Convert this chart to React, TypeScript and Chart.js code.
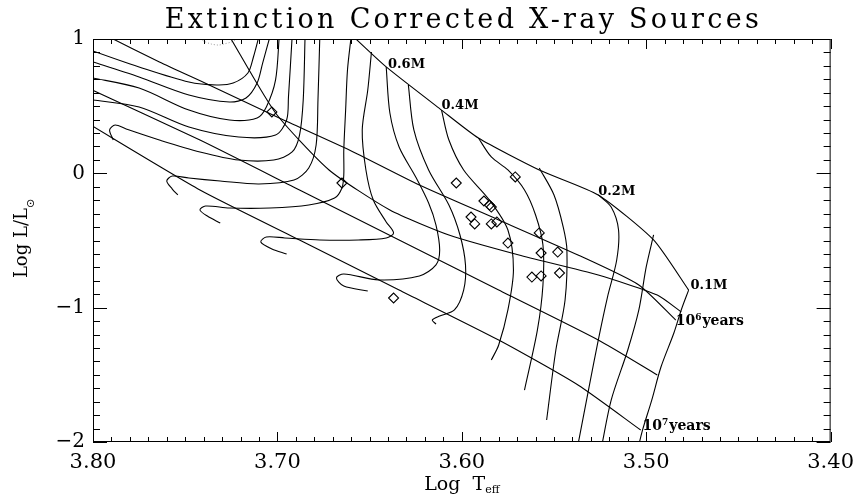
import React, { useEffect, useRef } from 'react';
import { Chart, registerables } from 'chart.js';

Chart.register(...registerables);

const TITLE = 'Extinction Corrected X-ray Sources';
const X_TITLE = 'Log  T';
const X_TITLE_SUB = 'eff';
const Y_TITLE = 'Log L/L';
const Y_TITLE_SUB = '\u2299';

// log Teff axis runs from 3.80 (left) to 3.40 (right); log L from -2 to 1
const X_MIN = 3.4;
const X_MAX = 3.8;
const Y_MIN = -2;
const Y_MAX = 1;

// Pre-main-sequence evolutionary tracks, points are [log Teff, log L/Lsun]
// higher masses: Hayashi descent, then leftward radiative branch
const trackB = [[3.710, 1.02], [3.713, 0.866], [3.716, 0.747], [3.724, 0.672], [3.733, 0.658], [3.748, 0.680], [3.775, 0.792], [3.800, 0.911], [3.805, 0.94]];
const trackC = [[3.704, 1.02], [3.708, 0.821], [3.711, 0.672], [3.717, 0.561], [3.726, 0.531], [3.748, 0.583], [3.775, 0.717], [3.800, 0.829], [3.805, 0.85]];
const trackD = [[3.699, 1.02], [3.701, 0.695], [3.706, 0.494], [3.711, 0.412], [3.726, 0.397], [3.748, 0.471], [3.775, 0.635], [3.800, 0.710], [3.805, 0.72]];
const trackE = [[3.692, 1.02], [3.694, 0.568], [3.695, 0.397], [3.701, 0.285], [3.721, 0.270], [3.748, 0.345], [3.775, 0.494], [3.800, 0.546], [3.805, 0.55]];
// tracks ending on the main sequence with a small hook
const trackG = [[3.685, 1.02], [3.686, 0.546], [3.688, 0.285], [3.692, 0.159], [3.702, 0.099], [3.721, 0.099], [3.742, 0.159], [3.764, 0.248], [3.782, 0.330], [3.788, 0.360], [3.791, 0.323], [3.789, 0.248]];
const trackH = [[3.677, 1.02], [3.678, 0.546], [3.679, 0.211], [3.683, 0.040], [3.691, -0.050], [3.710, -0.079], [3.731, -0.057], [3.748, -0.035], [3.757, -0.020], [3.760, -0.057], [3.757, -0.117], [3.754, -0.161]];
const trackI = [[3.660, 1.02], [3.662, 0.769], [3.663, 0.471], [3.664, 0.174], [3.664, -0.012], [3.665, -0.109], [3.669, -0.184], [3.683, -0.236], [3.704, -0.258], [3.726, -0.258], [3.739, -0.243], [3.742, -0.273], [3.738, -0.318], [3.731, -0.370]];
const track07 = [[3.649, 0.903], [3.651, 0.620], [3.654, 0.323], [3.652, 0.025], [3.648, -0.199], [3.641, -0.362], [3.637, -0.444], [3.641, -0.481], [3.656, -0.496], [3.677, -0.496], [3.696, -0.481], [3.706, -0.474], [3.709, -0.511], [3.703, -0.563], [3.695, -0.601]];
const track06 = [[3.641, 0.792], [3.639, 0.449], [3.634, 0.196], [3.625, -0.027], [3.618, -0.221], [3.614, -0.385], [3.612, -0.571], [3.614, -0.682], [3.623, -0.764], [3.645, -0.794], [3.664, -0.749], [3.668, -0.779], [3.664, -0.839], [3.651, -0.876]];
const track05 = [[3.629, 0.658], [3.626, 0.323], [3.618, 0.025], [3.607, -0.236], [3.601, -0.459], [3.598, -0.682], [3.599, -0.869], [3.604, -1.017], [3.612, -1.062], [3.616, -1.092], [3.614, -1.122]];
// low masses: nearly vertical descent
const track04 = [[3.611, 0.471], [3.607, 0.248], [3.599, 0.025], [3.585, -0.199], [3.575, -0.422], [3.572, -0.720], [3.575, -1.017], [3.580, -1.278], [3.584, -1.390]];
const track03 = [[3.591, 0.263], [3.584, 0.122], [3.575, 0.025], [3.566, -0.124], [3.560, -0.310], [3.556, -0.533], [3.556, -0.831], [3.559, -1.166], [3.566, -1.613]];
const track025 = [[3.558, 0.040], [3.550, -0.161], [3.545, -0.400], [3.543, -0.571], [3.544, -0.943], [3.549, -1.315], [3.554, -1.836]];
const track02 = [[3.526, -0.161], [3.519, -0.251], [3.515, -0.422], [3.516, -0.645], [3.521, -0.921], [3.526, -1.241], [3.531, -1.591], [3.537, -2.02]];
const track015 = [[3.496, -0.459], [3.500, -0.697], [3.504, -1.017], [3.510, -1.315], [3.519, -1.688], [3.524, -2.02]];
const track01 = [[3.477, -0.869], [3.481, -1.017], [3.485, -1.189], [3.492, -1.442], [3.497, -1.688], [3.502, -1.911], [3.504, -2.02]];

// Isochrones, youngest first
const iso1 = [[3.659, 1.02], [3.641, 0.792], [3.611, 0.471], [3.591, 0.263], [3.558, 0.025], [3.526, -0.161], [3.496, -0.496], [3.477, -0.869]];
const iso2 = [[3.726, 1.02], [3.701, 0.449], [3.672, 0.025], [3.639, -0.273], [3.607, -0.459], [3.569, -0.608], [3.526, -0.757], [3.494, -0.906], [3.481, -1.032]];
const iso3 = [[3.792, 1.02], [3.764, 0.829], [3.737, 0.658], [3.699, 0.412], [3.661, 0.174], [3.623, -0.087], [3.580, -0.347], [3.537, -0.608], [3.504, -0.831], [3.484, -1.092]];
const iso4 = [[3.805, 0.65], [3.742, 0.248], [3.688, -0.124], [3.634, -0.496], [3.580, -0.869], [3.526, -1.241], [3.494, -1.501]];
const iso5 = [[3.805, 0.39], [3.742, -0.124], [3.688, -0.496], [3.634, -0.869], [3.580, -1.241], [3.537, -1.576], [3.503, -1.911]];

// Faint dotted segment at the top of the diagram
const dottedArc = [[3.742, 1.0], [3.739, 0.978], [3.736, 0.963], [3.732, 0.955], [3.729, 0.963], [3.725, 0.978], [3.722, 1.0]];

// X-ray sources, extinction corrected
const sourceLogT = [3.703, 3.665, 3.637, 3.571, 3.603, 3.588, 3.585, 3.584, 3.595, 3.593, 3.584, 3.581, 3.558, 3.575, 3.557, 3.548, 3.547, 3.562, 3.557];
const sourceLogL = [0.457, -0.072, -0.928, -0.027, -0.072, -0.206, -0.236, -0.251, -0.325, -0.377, -0.377, -0.362, -0.444, -0.519, -0.593, -0.586, -0.742, -0.772, -0.764];

// Track and isochrone annotations
const massLabels = ['0.6M', '0.4M', '0.2M', '0.1M'];
const massLabelT = [3.640, 3.611, 3.526, 3.476];
const massLabelL = [0.784, 0.479, -0.161, -0.861];
const ageLabelExp = ['6', '7'];
const ageLabelT = [3.484, 3.502];
const ageLabelL = [-1.129, -1.911];

const tracks = [trackB, trackC, trackD, trackE, trackG, trackH, trackI, track07, track06, track05, track04, track03, track025, track02, track015, track01];
const isochrones = [iso1, iso2, iso3, iso4, iso5];

const SERIF = "'DejaVu Serif', 'Liberation Serif', serif";

const framePlugin = {
  id: 'idlFrame',
  afterDatasetsDraw(chart: any) {
    const { ctx, chartArea: a, scales } = chart;
    const xs = scales.x;
    const ys = scales.y;
    ctx.save();
    ctx.strokeStyle = '#000';
    ctx.lineWidth = 1;
    ctx.strokeRect(a.left + 0.5, a.top + 0.5, a.right - a.left - 1, a.bottom - a.top - 1);
    ctx.beginPath();
    for (let i = 0; i <= 40; i++) {
      const v = X_MIN + i * 0.01;
      const p = Math.round(xs.getPixelForValue(v)) + 0.5;
      const len = i % 10 === 0 ? 10 : 5;
      ctx.moveTo(p, a.bottom);
      ctx.lineTo(p, a.bottom - len);
      ctx.moveTo(p, a.top);
      ctx.lineTo(p, a.top + len);
    }
    for (let i = 0; i <= 30; i++) {
      const v = Y_MIN + i * 0.1;
      const p = Math.round(ys.getPixelForValue(v)) + 0.5;
      const len = i % 10 === 0 ? 14 : 7;
      ctx.moveTo(a.left, p);
      ctx.lineTo(a.left + len, p);
      ctx.moveTo(a.right, p);
      ctx.lineTo(a.right - len, p);
    }
    ctx.stroke();

    // mass labels
    ctx.fillStyle = '#000';
    ctx.textBaseline = 'alphabetic';
    ctx.textAlign = 'left';
    ctx.font = `bold 13px ${SERIF}`;
    massLabels.forEach((t, i) => {
      ctx.fillText(t, xs.getPixelForValue(massLabelT[i]), ys.getPixelForValue(massLabelL[i]));
    });
    // age labels with superscript exponent
    ageLabelExp.forEach((e, i) => {
      let x = xs.getPixelForValue(ageLabelT[i]);
      const y = ys.getPixelForValue(ageLabelL[i]);
      ctx.font = `bold 14px ${SERIF}`;
      ctx.fillText('10', x, y);
      x += ctx.measureText('10').width;
      ctx.font = `bold 9px ${SERIF}`;
      ctx.fillText(e, x, y - 5);
      x += ctx.measureText(e).width + 1;
      ctx.font = `bold 14px ${SERIF}`;
      ctx.fillText('years', x, y);
    });
    ctx.restore();
  },
  afterDraw(chart: any) {
    const { ctx, chartArea: a } = chart;
    ctx.save();
    ctx.fillStyle = '#000';
    ctx.textBaseline = 'alphabetic';
    ctx.textAlign = 'left';
    // title, widely spaced
    ctx.font = `27px ${SERIF}`;
    const target = 594;
    const w0 = ctx.measureText(TITLE).width;
    const sp = Math.max(0, (target - w0) / (TITLE.length - 1));
    (ctx as any).letterSpacing = `${sp}px`;
    const cx = (a.left + a.right) / 2;
    ctx.fillText(TITLE, cx - target / 2, 28);
    (ctx as any).letterSpacing = '0px';

    // x axis title
    ctx.font = `19px ${SERIF}`;
    const wMain = ctx.measureText(X_TITLE).width;
    ctx.font = `11px ${SERIF}`;
    const wSub = ctx.measureText(X_TITLE_SUB).width;
    let x = cx - (wMain + wSub) / 2;
    ctx.font = `19px ${SERIF}`;
    ctx.fillText(X_TITLE, x, 490);
    ctx.font = `11px ${SERIF}`;
    ctx.fillText(X_TITLE_SUB, x + wMain, 493);

    // y axis title, rotated
    ctx.translate(27, (a.top + a.bottom) / 2 - 2);
    ctx.rotate(-Math.PI / 2);
    ctx.font = `18px ${SERIF}`;
    const yMain = ctx.measureText(Y_TITLE).width;
    ctx.font = "11px 'DejaVu Sans', sans-serif";
    const ySub = ctx.measureText(Y_TITLE_SUB).width;
    x = -(yMain + ySub) / 2;
    ctx.font = `18px ${SERIF}`;
    ctx.fillText(Y_TITLE, x, 0);
    ctx.font = "11px 'DejaVu Sans', sans-serif";
    ctx.fillText(Y_TITLE_SUB, x + yMain, 7);
    ctx.restore();
  },
};

export default function App() {
  const ref = useRef<HTMLCanvasElement | null>(null);

  useEffect(() => {
    if (!ref.current) return;
    const lineStyle = {
      showLine: true,
      pointRadius: 0,
      borderColor: '#000',
      borderWidth: 1.1,
      tension: 0.3,
      fill: false,
    };
    const datasets: any[] = [];
    tracks.forEach((t) => datasets.push({ ...lineStyle, data: t.map(([x, y]) => ({ x, y })) }));
    isochrones.forEach((t) => datasets.push({ ...lineStyle, tension: 0.2, data: t.map(([x, y]) => ({ x, y })) }));
    datasets.push({
      ...lineStyle,
      borderColor: '#999',
      borderWidth: 1,
      borderDash: [1, 2],
      data: dottedArc.map(([x, y]) => ({ x, y })),
    });
    datasets.push({
      type: 'scatter',
      showLine: false,
      data: sourceLogT.map((x, i) => ({ x, y: sourceLogL[i] })),
      pointStyle: 'rectRot',
      pointRadius: 5,
      borderColor: '#000',
      borderWidth: 1.1,
      backgroundColor: 'rgba(0,0,0,0)',
    });

    const chart = new Chart(ref.current, {
      type: 'scatter',
      data: { datasets },
      options: {
        animation: false,
        responsive: false,
        devicePixelRatio: 1,
        layout: { padding: { top: 39, right: 29, left: 0, bottom: 0 } },
        plugins: { legend: { display: false }, tooltip: { enabled: false }, title: { display: false } },
        scales: {
          x: {
            type: 'linear',
            reverse: true,
            min: X_MIN,
            max: X_MAX,
            grid: { display: false, drawTicks: false },
            border: { display: false },
            afterFit: (s: any) => {
              s.height = 53;
            },
            ticks: {
              stepSize: 0.1,
              padding: 8,
              color: '#000',
              maxRotation: 0,
              autoSkip: false,
              font: { family: SERIF, size: 21 },
              callback: (v: any) => Number(v).toFixed(2),
            },
          },
          y: {
            type: 'linear',
            min: Y_MIN,
            max: Y_MAX,
            grid: { display: false, drawTicks: false },
            border: { display: false },
            afterFit: (s: any) => {
              s.width = 93;
            },
            ticks: {
              stepSize: 1,
              padding: 8,
              color: '#000',
              font: { family: SERIF, size: 20 },
              callback: (v: any) => (Number(v) < 0 ? '\u2212' + Math.abs(Number(v)) : String(v)),
            },
          },
        },
      },
      plugins: [framePlugin],
    });
    return () => chart.destroy();
  }, []);

  return (
    <div style={{ position: 'absolute', left: 0, top: 0, width: 862, height: 495, background: '#fff' }}>
      <canvas ref={ref} width={862} height={495} />
    </div>
  );
}
